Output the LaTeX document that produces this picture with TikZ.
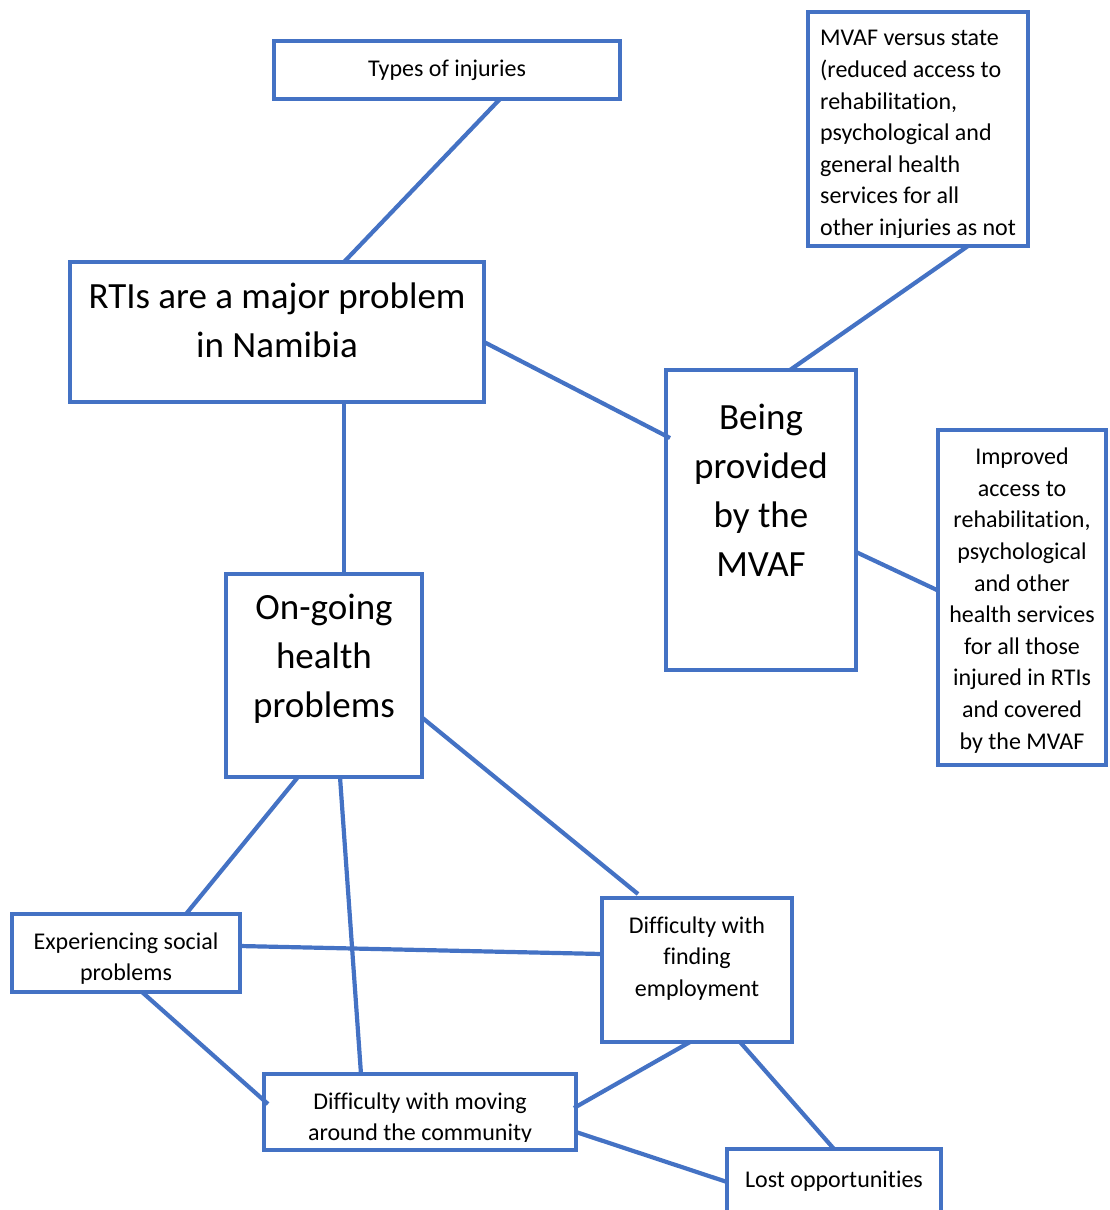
\documentclass[tikz,border=0pt]{standalone}
\usepackage{fontspec}
\setmainfont{Carlito}[Ligatures=NoCommon]
\definecolor{obl}{HTML}{4472C4}
\begin{document}
\begin{tikzpicture}[x=1pt,y=-1pt,
  box/.style={draw=obl,line width=3.8pt,fill=white,inner sep=0pt,outer sep=0pt},
  conn/.style={draw=obl,line width=4.2pt},
  small/.style={font=\fontsize{24}{31.6}\selectfont,inner sep=0pt,align=center},
  big/.style={font=\fontsize{37}{49}\selectfont,inner sep=0pt,align=center}]
\useasboundingbox (0,0) rectangle (1110,1210);
\clip (0,0) rectangle (1110,1210);
% boxes
\node[box,minimum width=346,minimum height=58] (types) at (447,70) {};
\node[box,minimum width=414,minimum height=140] (rti) at (277,332) {};
\node[box,minimum width=220,minimum height=234] (mvafv) at (918,129) {};
\node[box,minimum width=190,minimum height=300] (being) at (761,520) {};
\node[box,minimum width=168,minimum height=335] (impr) at (1022,597.5) {};
\node[box,minimum width=196,minimum height=203] (ongo) at (324,675.5) {};
\node[box,minimum width=228,minimum height=78] (soc) at (126,953) {};
\node[box,minimum width=190,minimum height=144] (find) at (697,970) {};
\node[box,minimum width=312,minimum height=76] (move) at (420,1112) {};
\node[box,minimum width=214,minimum height=80] (lost) at (834,1189) {};
% connectors
\draw[conn] ([xshift=53pt]types.south) -- ([xshift=67pt]rti.north);
\draw[conn] ([yshift=-10pt]rti.east) -- ([xshift=4pt,yshift=82pt]being.west);
\draw[conn] ([xshift=50pt]mvafv.south) -- ([xshift=29pt]being.north);
\draw[conn] ([yshift=-32pt]being.east) -- ([yshift=7pt]impr.west);
\draw[conn] ([xshift=67pt]rti.south) -- ([xshift=20pt]ongo.north);
\draw[conn] ([xshift=-26pt]ongo.south) -- ([xshift=60pt]soc.north);
\draw[conn] ([xshift=16pt]ongo.south) -- ([xshift=-59pt]move.north);
\draw[conn] ([yshift=-42pt]ongo.east) -- ([xshift=-59pt,yshift=4pt]find.north);
\draw[conn] ([yshift=7pt]soc.east) -- ([yshift=16pt]find.west);
\draw[conn] ([xshift=16pt]soc.south) -- ([xshift=4pt,yshift=8pt]move.west);
\draw[conn] ([xshift=-7pt]find.south) -- ([xshift=-2pt,yshift=4pt]move.east);
\draw[conn] ([xshift=43pt]find.south) -- (lost.north);
\draw[conn] ([yshift=-20pt]move.east) -- ([yshift=7pt]lost.west);
% redraw boxes over connector ends
\foreach \n in {types,rti,mvafv,being,impr,ongo,soc,find,move,lost}{
  \draw[obl,line width=3.8pt] (\n.north west) rectangle (\n.south east);}
% texts
\node[small] (ttypes) at (447,70) {Types of injuries};
\node[big] (trti) at (277,320.5) {RTIs are a major problem\\in Namibia};
\begin{scope}
\clip (810,14) rectangle (1026,237);
\node[small,align=left,anchor=west] (tmvafv) at (820,135) {MVAF versus state\\(reduced access to\\rehabilitation,\\psychological and\\general health\\services for all\\other injuries as not};
\end{scope}
\node[big] (tbeing) at (761,490.5) {Being\\provided\\by the\\MVAF};
\node[small] (timpr) at (1022,600.5) {Improved\\access to\\rehabilitation,\\psychological\\and other\\health services\\for all those\\injured in RTIs\\and covered\\by the MVAF};
\node[big] (tongo) at (324,659) {On-going\\health\\problems};
\node[small] (tsoc) at (126,958.5) {Experiencing social\\problems};
\node[small] (tfind) at (697,958.5) {Difficulty with\\finding\\employment};
\begin{scope}
\clip (266,1076) rectangle (574,1141);
\node[small] (tmove) at (420,1118.5) {Difficulty with moving\\around the community};
\end{scope}
\node[small] (tlost) at (834,1181) {Lost opportunities};
\end{tikzpicture}
\end{document}
